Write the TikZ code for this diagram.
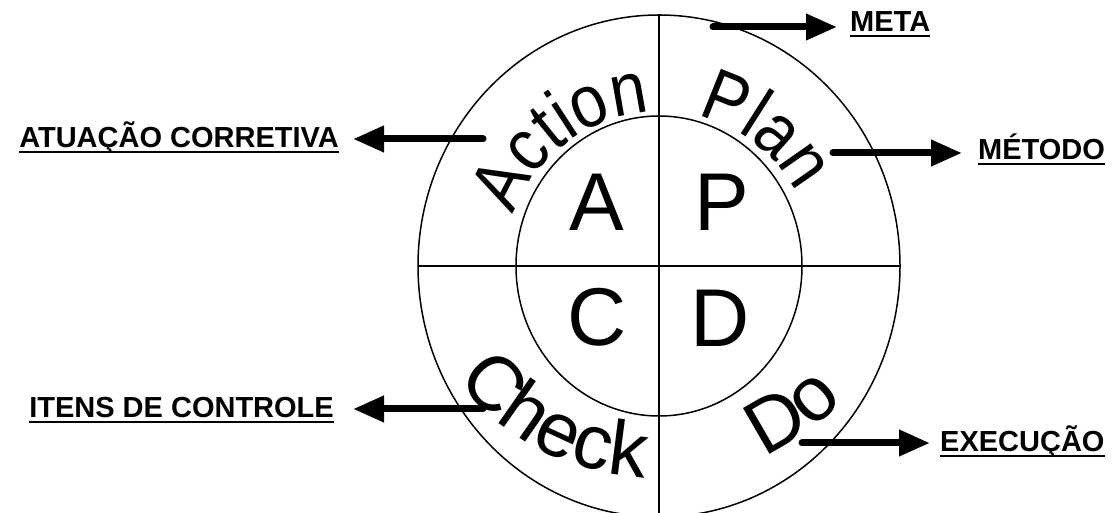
\documentclass[tikz,border=0pt]{standalone}
\usepackage{fontspec}
\newfontfamily\arial{Liberation Sans}
\newfontfamily\arialarco[FakeStretch=0.88]{Liberation Sans}
\usetikzlibrary{calc,arrows.meta,decorations.text}
\newcommand\palavra{\arialarco\fontsize{74}{74}\selectfont}
\newcommand\palavrab{\arial\fontsize{77}{77}\selectfont}

\tikzset{
  linha/.style={line width=1.5pt},
  letra/.style={font=\arial\fontsize{82}{82}\selectfont, inner sep=0pt},
  rotulo/.style={font=\arial\bfseries\fontsize{29}{29}\selectfont, inner sep=0pt},
  sublinha/.style={line width=2pt},
  seta/.style={line width=7pt, line cap=round, -{Triangle[length=31pt,width=25pt]}},
}

\begin{document}
\begin{tikzpicture}[x=1pt,y=1pt]
  %%%%% START %%%%%
  \useasboundingbox (0,0) rectangle (1113,513);

  \coordinate (O) at (659,247);

  % rings and cross
  \draw[linha] (O) ellipse [x radius=241, y radius=251];
  \draw[linha] (O) ellipse [x radius=143, y radius=150];
  \draw[linha] (659,498) -- (659,0);
  \draw[linha] (418,247) -- (900,247);

  % big letters
  \node[letra] (A) at (597,311) {A};
  \node[letra] (P) at (722,311) {P};
  \node[letra] (C) at (597,196) {C};
  \node[letra] (D) at (720,195) {D};

  % words on the ring
  \path[decorate, decoration={text along path, text={|\palavra|Action}, text align=center}]
    ($(O)+(167:154 and 154)$) arc [start angle=167, end angle=87, x radius=154, y radius=154];
  \path[decorate, decoration={text along path, text={|\palavra|Plan}, text align=center}]
    ($(O)+(80:156 and 155)$) arc [start angle=80, end angle=24, x radius=156, y radius=155];
  \path[decorate, decoration={text along path, text={|\palavrab|Check}, text align=center}]
    ($(O)+(204:238 and 212)$) arc [start angle=204, end angle=274, x radius=238, y radius=212];
  \path[decorate, decoration={text along path, text={|\palavrab|Do}, text align=center}]
    ($(O)+(-78:238 and 212)$) arc [start angle=-78, end angle=-24, x radius=238, y radius=212];

  % labels
  \node[rotulo, anchor=base west] (meta) at (850,481) {META};
  \node[rotulo, anchor=base west] (metodo) at (978,353) {MÉTODO};
  \node[rotulo, anchor=base west] (exec) at (940,61) {EXECUÇÃO};
  \node[rotulo, anchor=base east] (atua) at (339,365) {ATUAÇÃO CORRETIVA};
  \node[rotulo, anchor=base east] (itens) at (334,95) {ITENS DE CONTROLE};
  \foreach \n in {meta,metodo,exec,atua,itens}
    \draw[sublinha] ([yshift=-4pt]\n.base west) -- ([yshift=-4pt]\n.base east);

  % arrows
  \coordinate (sMeta) at (713,486);
  \coordinate (sMetodo) at (833,360);
  \coordinate (sExec) at (802,70);
  \coordinate (sAtua) at (483,374);
  \coordinate (sItens) at (483,104);
  \draw[seta, shorten >=13pt] (sMeta) -- (sMeta -| meta.west);
  \draw[seta, shorten >=16pt] (sMetodo) -- (sMetodo -| metodo.west);
  \draw[seta, shorten >=10pt] (sExec) -- (sExec -| exec.west);
  \draw[seta, shorten >=14pt] (sAtua) -- (sAtua -| atua.east);
  \draw[seta, shorten >=19pt] (sItens) -- (sItens -| itens.east);

  %%%%% END %%%%%
\end{tikzpicture}
\end{document}
